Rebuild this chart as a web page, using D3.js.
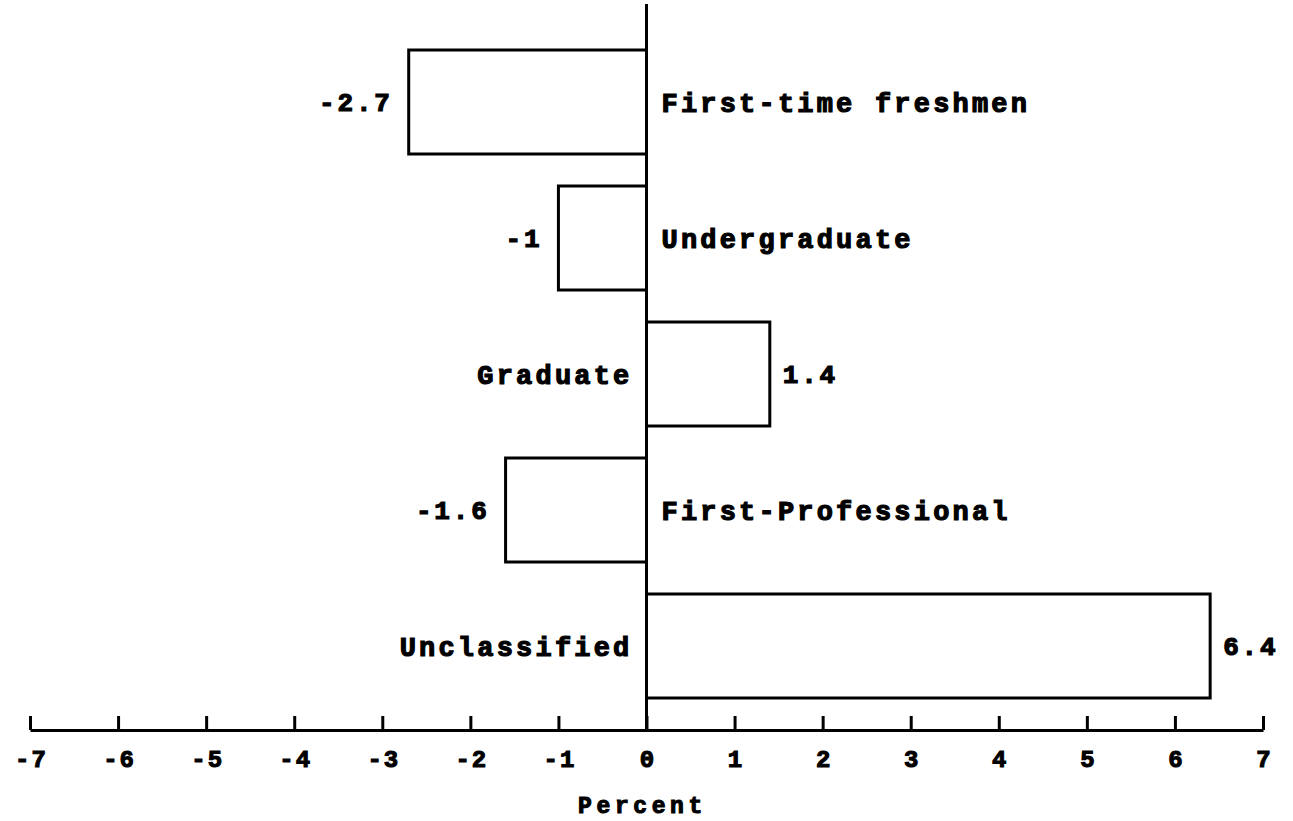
<!DOCTYPE html>
<html>
<head>
<meta charset="utf-8">
<script src="https://cdn.jsdelivr.net/npm/d3@7"></script>
<style>
  body { margin: 0; background: #fff; }
  text { font-family: 'Liberation Mono', 'DejaVu Sans Mono', monospace; font-weight: bold; fill: #000; }
</style>
</head>
<body>
<div id="chart"></div>
<script>
// data
const categories = ['First-time freshmen', 'Undergraduate', 'Graduate', 'First-Professional', 'Unclassified']
const values = [-2.7, -1, 1.4, -1.6, 6.4]
const valueLabels = ['-2.7', '-1', '1.4', '-1.6', '6.4']
const tickValues = [-7, -6, -5, -4, -3, -2, -1, 0, 1, 2, 3, 4, 5, 6, 7]
const axisTitle = 'Percent'

const width = 1293
const height = 821

const svg = d3
  .select('#chart')
  .append('svg')
  .attr('width', width)
  .attr('height', height)

const xPositionScale = d3.scaleLinear().domain([-7, 7]).range([30, 1263])
const yPositionScale = d3
  .scaleBand()
  .domain(categories)
  .range([34, 714])
  .paddingInner(32 / 136)
  .paddingOuter(16 / 136)

const datapoints = categories.map((c, i) => ({ name: c, value: values[i], label: valueLabels[i] }))
const x0 = xPositionScale(0)

// bars
svg
  .selectAll('rect.bar')
  .data(datapoints)
  .enter()
  .append('rect')
  .attr('class', 'bar')
  .attr('x', d => Math.min(xPositionScale(d.value), x0))
  .attr('y', d => yPositionScale(d.name))
  .attr('width', d => Math.abs(xPositionScale(d.value) - x0))
  .attr('height', yPositionScale.bandwidth())
  .attr('fill', '#fff')
  .attr('stroke', '#000')
  .attr('stroke-width', 3)

// zero line
svg
  .append('line')
  .attr('x1', x0)
  .attr('x2', x0)
  .attr('y1', 4)
  .attr('y2', 730)
  .attr('stroke', '#000')
  .attr('stroke-width', 3)

// value labels at the bar ends
svg
  .selectAll('text.value')
  .data(datapoints)
  .enter()
  .append('text')
  .attr('class', 'value')
  .text(d => d.label)
  .attr('x', d => xPositionScale(d.value) + (d.value < 0 ? -16 : 13))
  .attr('y', d => yPositionScale(d.name) + yPositionScale.bandwidth() / 2)
  .attr('dy', '0.36em')
  .attr('text-anchor', d => (d.value < 0 ? 'end' : 'start'))
  .attr('font-size', 26)
  .attr('letter-spacing', 2.8)
  .attr('stroke', '#000')
  .attr('stroke-width', 1.2)

// category labels on the other side of zero
svg
  .selectAll('text.cat')
  .data(datapoints)
  .enter()
  .append('text')
  .attr('class', 'cat')
  .text(d => d.name)
  .attr('x', d => (d.value < 0 ? x0 + 15 : x0 - 14))
  .attr('y', d => yPositionScale(d.name) + yPositionScale.bandwidth() / 2)
  .attr('dy', '0.36em')
  .attr('text-anchor', d => (d.value < 0 ? 'start' : 'end'))
  .attr('font-size', 27)
  .attr('letter-spacing', 3.2)
  .attr('stroke', '#000')
  .attr('stroke-width', 1.2)

// x axis
const xAxis = d3
  .axisBottom(xPositionScale)
  .tickValues(tickValues)
  .tickFormat(d => String(d))
  .tickSizeInner(-14)
  .tickSizeOuter(0)
  .tickPadding(20)

svg
  .append('g')
  .attr('class', 'axis x-axis')
  .attr('transform', 'translate(0,730)')
  .call(xAxis)

svg.selectAll('.x-axis path, .x-axis line').attr('stroke', '#000').attr('stroke-width', 3)
svg
  .selectAll('.x-axis text')
  .attr('font-family', "'Liberation Mono', monospace")
  .attr('font-weight', 'bold')
  .attr('font-size', 24)
  .attr('letter-spacing', 2)
  .attr('dx', 1)
  .attr('fill', '#000')
  .attr('stroke', '#000')
  .attr('stroke-width', 1.1)

svg
  .append('text')
  .text(axisTitle)
  .attr('x', x0 - 4)
  .attr('y', 813)
  .attr('text-anchor', 'middle')
  .attr('font-size', 23)
  .attr('letter-spacing', 4.6)
  .attr('stroke', '#000')
  .attr('stroke-width', 1.1)
</script>
</body>
</html>
